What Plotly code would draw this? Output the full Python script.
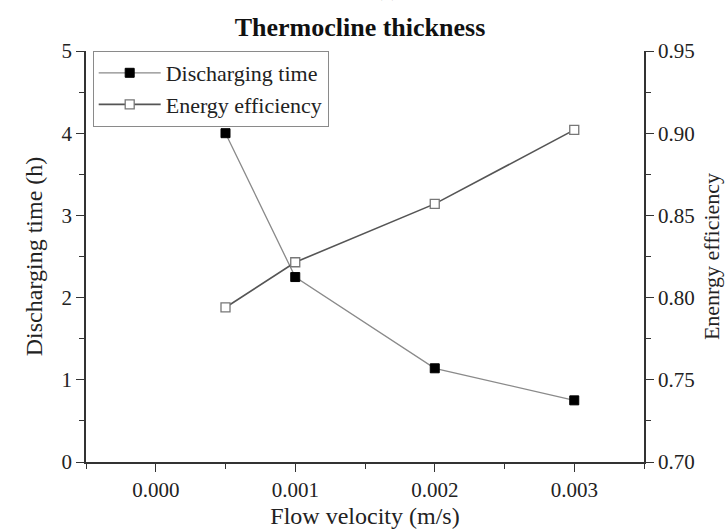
import plotly.graph_objects as go

# Flow velocity (m/s) and the two responses
velocity = [0.0005, 0.001, 0.002, 0.003]
discharging_time = [4.0, 2.25, 1.14, 0.75]
energy_efficiency = [0.794, 0.8215, 0.857, 0.902]

x_ticks = [0.000, 0.001, 0.002, 0.003]
x_tick_labels = ["0.000", "0.001", "0.002", "0.003"]

FONT = "Liberation Serif, Times New Roman, serif"
AXIS = "#333333"
TEXT = "#222222"

fig = go.Figure()

fig.add_trace(go.Scatter(
    x=velocity, y=discharging_time, name="Discharging time",
    mode="lines+markers",
    line=dict(color="#8a8a8a", width=1.3),
    marker=dict(symbol="square", size=9, color="black",
                line=dict(color="black", width=1)),
))

fig.add_trace(go.Scatter(
    x=velocity, y=energy_efficiency, name="Energy efficiency",
    mode="lines+markers", yaxis="y2",
    line=dict(color="#555555", width=1.6),
    marker=dict(symbol="square", size=9, color="white",
                line=dict(color="#777777", width=1.3)),
))

axis_common = dict(
    showline=True, linecolor=AXIS, linewidth=1.5,
    ticks="outside", ticklen=8, tickwidth=1.3, tickcolor=AXIS,
    showgrid=False, zeroline=False, automargin=False,
    tickfont=dict(family=FONT, size=21, color=TEXT),
)
minor_common = dict(ticks="outside", ticklen=5, tickcolor=AXIS, tickwidth=1.2)

fig.update_layout(
    width=728, height=530,
    margin=dict(l=86, r=84, t=51, b=68),
    plot_bgcolor="white", paper_bgcolor="white",
    font=dict(family=FONT, color=TEXT),
    title=dict(text="<b>Thermocline thickness</b>",
               font=dict(family=FONT, size=26, color="#111"),
               x=(360 / 728), xanchor="center", xref="container",
               y=1 - 27 / 530, yanchor="middle", yref="container"),
    xaxis=dict(
        **axis_common,
        range=[-0.0005, 0.0035],
        tickvals=x_ticks, ticktext=x_tick_labels,
        minor=dict(**minor_common, dtick=0.0005, tick0=-0.0005),
        title=dict(text="Flow velocity (m/s)",
                   font=dict(family=FONT, size=24, color=TEXT),
                   standoff=6),
    ),
    yaxis=dict(
        **axis_common,
        range=[0, 5], dtick=1, tick0=0,
        minor=dict(**minor_common, dtick=0.5),
        title=dict(text="Discharging time (h)",
                   font=dict(family=FONT, size=24, color=TEXT),
                   standoff=12),
    ),
    yaxis2=dict(
        **axis_common,
        overlaying="y", side="right", anchor="x",
        range=[0.70, 0.95], dtick=0.05, tick0=0.70, tickformat=".2f",
        minor=dict(**minor_common, dtick=0.025),
        title=dict(text="Enenrgy efficiency",
                   font=dict(family=FONT, size=22, color=TEXT),
                   standoff=10),
    ),
    legend=dict(
        x=0.012, y=1.0, xanchor="left", yanchor="top",
        bgcolor="white", bordercolor="#8a8a8a", borderwidth=1,
        font=dict(family=FONT, size=22, color=TEXT),
        tracegroupgap=0, itemwidth=62,
    ),
    showlegend=True,
)

# panel letter above the title
fig.add_annotation(
    text="(c)", xref="paper", yref="paper",
    x=(387 - 86) / 558, y=(462 - 3) / 411,
    xanchor="center", yanchor="bottom", showarrow=False,
    font=dict(family=FONT, size=20, color="#888"),
)

fig.write_html("out.html")
